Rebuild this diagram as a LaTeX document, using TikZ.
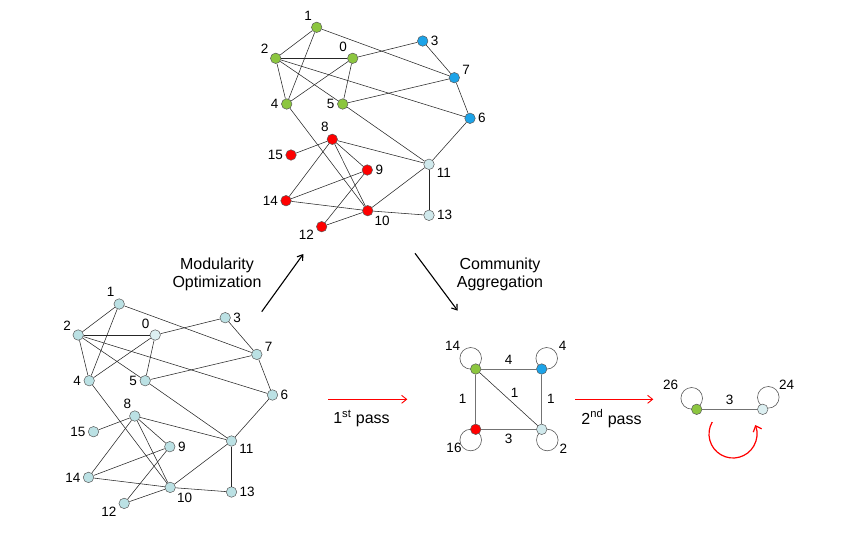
\documentclass[tikz,border=0pt]{standalone}
\usepackage{fontspec}
\setmainfont{Liberation Sans}
\usepackage{xcolor}
\usepackage{tikz}
\usetikzlibrary{arrows.meta, positioning, backgrounds}

\definecolor{commgreen}{RGB}{140,198,63}
\definecolor{commblue}{RGB}{28,163,232}
\definecolor{commred}{RGB}{255,0,0}
\definecolor{commcyan}{RGB}{187,225,228}
\definecolor{commpale}{RGB}{208,233,236}
\definecolor{commwhite}{RGB}{220,239,241}

\begin{document}
\begin{tikzpicture}[
    x=1pt, y=-1pt,
    vertex/.style={draw=black!65, circle, inner sep=0pt, minimum size=10.5pt,
                   line width=0.5pt},
    every label/.style={font=\fontsize{13.5}{15}\selectfont, inner sep=1pt},
    label distance=1.5pt,
    edge/.style={draw=black!85, line width=0.55pt},
    wedge/.style={draw=black!55, line width=0.8pt},
    selfloop/.style={draw=black!65, line width=0.6pt},
    num/.style={font=\fontsize{13.5}{15}\selectfont, inner sep=1pt},
    caption/.style={font=\fontsize{16}{18}\selectfont, align=center},
    stage/.style={draw=black, line width=1.1pt, -{Straight Barb[length=5pt, width=7pt]}},
    pass/.style={draw=commred, line width=0.9pt, -{Straight Barb[length=5pt, width=8pt]}}
]
    \useasboundingbox (0,0) rectangle (856,542);

    % graph after modularity optimization
    \node[vertex, fill=commgreen, label=120:1]   (m1)  at (316.7,27.3)  {};
    \node[vertex, fill=commgreen, label=150:2]   (m2)  at (275.7,58.3)  {};
    \node[vertex, fill=commgreen, label=130:0]   (m0)  at (352.7,58.3)  {};
    \node[vertex, fill=commblue,  label=right:3] (m3)  at (422.7,41)    {};
    \node[vertex, fill=commblue,  label=15:7]    (m7)  at (454.3,77.7)  {};
    \node[vertex, fill=commgreen, label=left:4]  (m4)  at (286.7,104)   {};
    \node[vertex, fill=commgreen, label=left:5]  (m5)  at (342.7,104)   {};
    \node[vertex, fill=commblue,  label=right:6] (m6)  at (470,118.3)   {};
    \node[vertex, fill=commred,   label=110:8]   (m8)  at (332.3,139.3) {};
    \node[vertex, fill=commred,   label=left:15] (m15) at (291,155)     {};
    \node[vertex, fill=commred,   label=right:9] (m9)  at (367.3,170)   {};
    \node[vertex, fill=commpale,  label=-20:11]  (m11) at (429,164.3)   {};
    \node[vertex, fill=commred,   label=left:14] (m14) at (286,200.7)   {};
    \node[vertex, fill=commred,   label=-35:10]  (m10) at (367.7,210.7) {};
    \node[vertex, fill=commpale,  label=right:13] (m13) at (429,215.3)  {};
    \node[vertex, fill=commred,   label=200:12]  (m12) at (321.7,226.7) {};

    % original graph
    \begin{scope}[shift={(-197.5,276.7)}]
    \node[vertex, fill=commcyan,  label=120:1]   (g1)  at (316.7,27.3)  {};
    \node[vertex, fill=commcyan,  label=150:2]   (g2)  at (275.7,58.3)  {};
    \node[vertex, fill=commwhite, label=130:0]   (g0)  at (352.7,58.3)  {};
    \node[vertex, fill=commcyan,  label=right:3] (g3)  at (422.7,41)    {};
    \node[vertex, fill=commcyan,  label=15:7]    (g7)  at (454.3,77.7)  {};
    \node[vertex, fill=commcyan,  label=left:4]  (g4)  at (286.7,104)   {};
    \node[vertex, fill=commcyan,  label=left:5]  (g5)  at (342.7,104)   {};
    \node[vertex, fill=commcyan,  label=right:6] (g6)  at (470,118.3)   {};
    \node[vertex, fill=commcyan,  label=110:8]   (g8)  at (332.3,139.3) {};
    \node[vertex, fill=commcyan,  label=left:15] (g15) at (291,155)     {};
    \node[vertex, fill=commcyan,  label=right:9] (g9)  at (367.3,170)   {};
    \node[vertex, fill=commcyan,  label=-20:11]  (g11) at (429,164.3)   {};
    \node[vertex, fill=commcyan,  label=left:14] (g14) at (286,200.7)   {};
    \node[vertex, fill=commcyan,  label=-35:10]  (g10) at (367.7,210.7) {};
    \node[vertex, fill=commcyan,  label=right:13] (g13) at (429,215.3)  {};
    \node[vertex, fill=commcyan,  label=200:12]  (g12) at (321.7,226.7) {};
    \end{scope}

    \foreach \g in {m,g}
      \foreach \a/\b in {1/2, 1/4, 1/7, 2/0, 2/4, 2/5, 2/6, 0/4, 0/5, 0/3,
                         3/7, 7/5, 7/6, 4/10, 5/11, 6/11, 8/15, 8/11, 8/9,
                         8/10, 8/14, 9/14, 9/12, 14/10, 10/12, 10/11, 10/13, 11/13}
        \draw[edge] (\g\a) -- (\g\b);

    % aggregated communities
    \node[vertex, fill=commgreen] (c14) at (475.7,369)   {};
    \node[vertex, fill=commblue]  (c4)  at (541.7,369)   {};
    \node[vertex, fill=commred]   (c16) at (475.7,429.3) {};
    \node[vertex, fill=commpale]  (c2)  at (541.7,429.3) {};
    \begin{scope}[on background layer]
    \draw[selfloop] ([shift={(-5pt,10.7pt)}]c14.center) circle[radius=10.8pt];
    \draw[selfloop] ([shift={(5pt,10.7pt)}]c4.center) circle[radius=10.8pt];
    \draw[selfloop] ([shift={(-5pt,-10.7pt)}]c16.center) circle[radius=10.8pt];
    \draw[selfloop] ([shift={(5.6pt,-10.7pt)}]c2.center) circle[radius=10.8pt];
    \end{scope}
    \draw[wedge] (c14) -- node[num, above=3pt] {4} (c4);
    \draw[wedge] (c14) -- node[num, left=8pt] {1} (c16);
    \draw[edge]  (c14) -- node[num, above right=0pt and 1pt] {1} (c2);
    \draw[wedge] (c4)  -- node[num, right=4pt] {1} (c2);
    \draw[wedge] (c16) -- node[num, below=3pt] {3} (c2);
    \node[num] (t14) at (452.7,346)   {14};
    \node[num] (t4)  at (562.7,346)   {4};
    \node[num] (t16) at (454,448.3)   {16};
    \node[num] (t2)  at (563.3,448.3) {2};

    % second pass
    \node[vertex, fill=commgreen] (f26) at (696.7,409.3) {};
    \node[vertex, fill=commwhite] (f24) at (762.7,409.3) {};
    \begin{scope}[on background layer]
    \draw[selfloop] ([shift={(-5pt,11pt)}]f26.center) circle[radius=10.8pt];
    \draw[selfloop] ([shift={(5.6pt,12pt)}]f24.center) circle[radius=10.8pt];
    \end{scope}
    \draw[wedge] (f26) -- node[num, above=3pt] {3} (f24);
    \node[num] (t26) at (670.7,385) {26};
    \node[num] (t24) at (786.7,385) {24};
    \coordinate (turn) at (733,434);
    \draw[commred, line width=1.2pt, -{Straight Barb[length=5pt, width=9pt]}]
        ([shift={(150:24pt)}]turn) arc[start angle=150, end angle=382, radius=24pt];

    % stages
    \coordinate (optfrom) at (261.7,311.7);
    \coordinate (optto)   at (303.3,254);
    \coordinate (aggfrom) at (415,253.3);
    \coordinate (aggto)   at (457.7,310.7);
    \draw[stage] (optfrom) -- (optto);
    \draw[stage] (aggfrom) -- (aggto);
    \node[caption] (opt) at (217,274) {Modularity\\Optimization};
    \node[caption] (agg) at (500,274) {Community\\Aggregation};

    \coordinate (p1from) at (328.3,399.3);
    \coordinate (p1to)   at (407.3,399.3);
    \coordinate (p2from) at (575,399.3);
    \coordinate (p2to)   at (653.3,399.3);
    \draw[pass] (p1from) -- (p1to);
    \draw[pass] (p2from) -- (p2to);
    \node[caption] (first)  at (361.5,418.5) {1\textsuperscript{st} pass};
    \node[caption] (second) at (611.5,418.5) {2\textsuperscript{nd} pass};

\end{tikzpicture}
\end{document}
